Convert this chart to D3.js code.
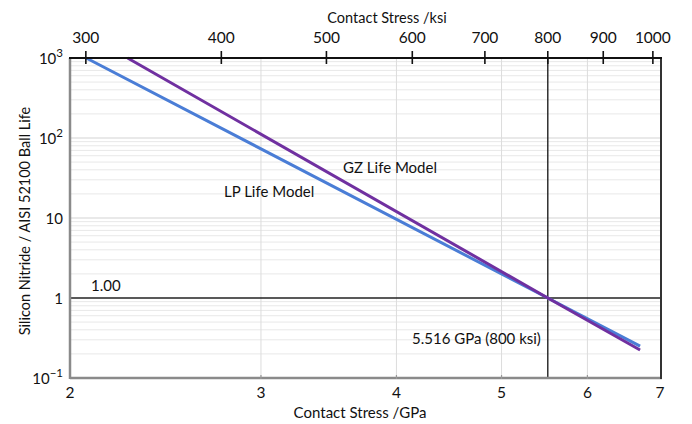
<!DOCTYPE html>
<html>
<head>
<meta charset="utf-8">
<script src="https://cdn.jsdelivr.net/npm/d3@7"></script>
<style>
  html, body { margin: 0; padding: 0; background: #fff; }
  text { font-family: Lato, "Open Sans", sans-serif; fill: #111; }
</style>
</head>
<body>
<svg id="chart" width="692" height="424"></svg>
<script>
// Life ratio (silicon nitride / AISI 52100) versus contact stress, log-log
const lpStress = [2.07, 5.516, 6.71];     // GPa
const lpLife   = [1000, 1.0, 0.25];
const gzStress = [2.26, 5.516, 6.71];     // GPa
const gzLife   = [1000, 1.0, 0.224];

const gpaTicks  = [2, 3, 4, 5, 6, 7];
const ksiTicks  = [300, 400, 500, 600, 700, 800, 900, 1000];
const lifeTicks = [0.1, 1, 10, 100, 1000];
const lifeTickLabels = [["10", "\u22121"], ["1", ""], ["10", ""], ["10", "2"], ["10", "3"]];

const refStress = 5.516;   // GPa (800 ksi)
const refLife = 1.0;
const ksiToGpa = 0.0068948;

const svg = d3.select("#chart");
const m = { left: 70, right: 661, top: 58, bottom: 378 };

const x = d3.scaleLog().domain([2, 7]).range([m.left, m.right - 1]);
const y = d3.scaleLog().domain([0.1, 1000]).range([m.bottom, m.top]);

// minor horizontal grid (2..9 within each decade)
const minor = [];
for (let e = -1; e < 3; e++) for (let k = 2; k <= 9; k++) minor.push(k * Math.pow(10, e));
svg.append("g").selectAll("line").data(minor).join("line")
  .attr("x1", m.left).attr("x2", m.right)
  .attr("y1", d => y(d)).attr("y2", d => y(d))
  .attr("stroke", "#e8e8e8").attr("stroke-width", 1);

// major horizontal grid
svg.append("g").selectAll("line").data([10, 100]).join("line")
  .attr("x1", m.left).attr("x2", m.right)
  .attr("y1", d => y(d)).attr("y2", d => y(d))
  .attr("stroke", "#d4d4d4").attr("stroke-width", 1.2);

// vertical grid at GPa ticks
svg.append("g").selectAll("line").data([3, 4, 5, 6]).join("line")
  .attr("x1", d => x(d)).attr("x2", d => x(d))
  .attr("y1", m.top).attr("y2", m.bottom)
  .attr("stroke", "#dcdcdc").attr("stroke-width", 1);

// reference lines
svg.append("line")
  .attr("x1", m.left).attr("x2", m.right)
  .attr("y1", y(refLife)).attr("y2", y(refLife))
  .attr("stroke", "#222").attr("stroke-width", 1.4);
svg.append("line")
  .attr("x1", x(refStress)).attr("x2", x(refStress))
  .attr("y1", m.top).attr("y2", m.bottom)
  .attr("stroke", "#222").attr("stroke-width", 1.4);

// frame
svg.append("line").attr("x1", m.left).attr("x2", m.left)
  .attr("y1", m.top).attr("y2", m.bottom + 1)
  .attr("stroke", "#8a8a8a").attr("stroke-width", 2.5);
svg.append("line").attr("x1", m.left).attr("x2", m.right + 1)
  .attr("y1", m.bottom).attr("y2", m.bottom)
  .attr("stroke", "#8a8a8a").attr("stroke-width", 2.5);
svg.append("line").attr("x1", m.right).attr("x2", m.right)
  .attr("y1", m.top).attr("y2", m.bottom + 1)
  .attr("stroke", "#333").attr("stroke-width", 2);

// small ticks on bottom axis
svg.append("g").selectAll("line").data([3, 4, 5, 6]).join("line")
  .attr("x1", d => x(d)).attr("x2", d => x(d))
  .attr("y1", m.bottom - 3).attr("y2", m.bottom + 1)
  .attr("stroke", "#999").attr("stroke-width", 1.2);

// curves
const line = d3.line().x(d => x(d[0])).y(d => y(d[1]));
svg.append("path").datum(d3.zip(lpStress, lpLife))
  .attr("d", line).attr("fill", "none")
  .attr("stroke", "#4a7dd6").attr("stroke-width", 3);
svg.append("path").datum(d3.zip(gzStress, gzLife))
  .attr("d", line).attr("fill", "none")
  .attr("stroke", "#7030a0").attr("stroke-width", 3);

// top axis (ksi)
svg.append("line").attr("x1", m.left - 1).attr("x2", m.right + 1)
  .attr("y1", m.top).attr("y2", m.top)
  .attr("stroke", "#111").attr("stroke-width", 2.2);
svg.append("g").selectAll("line").data(ksiTicks).join("line")
  .attr("x1", d => x(d * ksiToGpa)).attr("x2", d => x(d * ksiToGpa))
  .attr("y1", m.top - 7).attr("y2", m.top + 6)
  .attr("stroke", "#111").attr("stroke-width", 1.6);
svg.append("g").selectAll("text").data(ksiTicks).join("text")
  .attr("x", d => x(d * ksiToGpa)).attr("y", 43)
  .attr("text-anchor", "middle").attr("font-size", 15.5)
  .text(d => d);
svg.append("text").attr("x", 387).attr("y", 23)
  .attr("text-anchor", "middle").attr("font-size", 14.5)
  .text("Contact Stress /ksi");

// bottom axis (GPa)
svg.append("g").selectAll("text").data(gpaTicks).join("text")
  .attr("x", d => x(d)).attr("y", 398)
  .attr("text-anchor", "middle").attr("font-size", 15.5)
  .text(d => d);
svg.append("text").attr("x", 360).attr("y", 418)
  .attr("text-anchor", "middle").attr("font-size", 15)
  .text("Contact Stress /GPa");

// left axis (life ratio)
const yl = svg.append("g").selectAll("text").data(lifeTicks).join("text")
  .attr("x", 63).attr("y", d => y(d) + 6)
  .attr("text-anchor", "end").attr("font-size", 15);
yl.append("tspan").text((d, i) => lifeTickLabels[i][0]);
yl.append("tspan").attr("dy", -7).attr("font-size", 11.5)
  .text((d, i) => lifeTickLabels[i][1]);

svg.append("text")
  .attr("transform", "translate(30,221) rotate(-90)")
  .attr("text-anchor", "middle").attr("font-size", 14.5)
  .text("Silicon Nitride / AISI 52100 Ball Life");

// annotations
svg.append("text").attr("x", 343).attr("y", 173).attr("font-size", 15).text("GZ Life Model");
svg.append("text").attr("x", 224).attr("y", 197).attr("font-size", 15).text("LP Life Model");
svg.append("text").attr("x", 91).attr("y", 291).attr("font-size", 15).text("1.00");
svg.append("text").attr("x", 412).attr("y", 344).attr("font-size", 15).text("5.516 GPa (800 ksi)");
</script>
</body>
</html>
